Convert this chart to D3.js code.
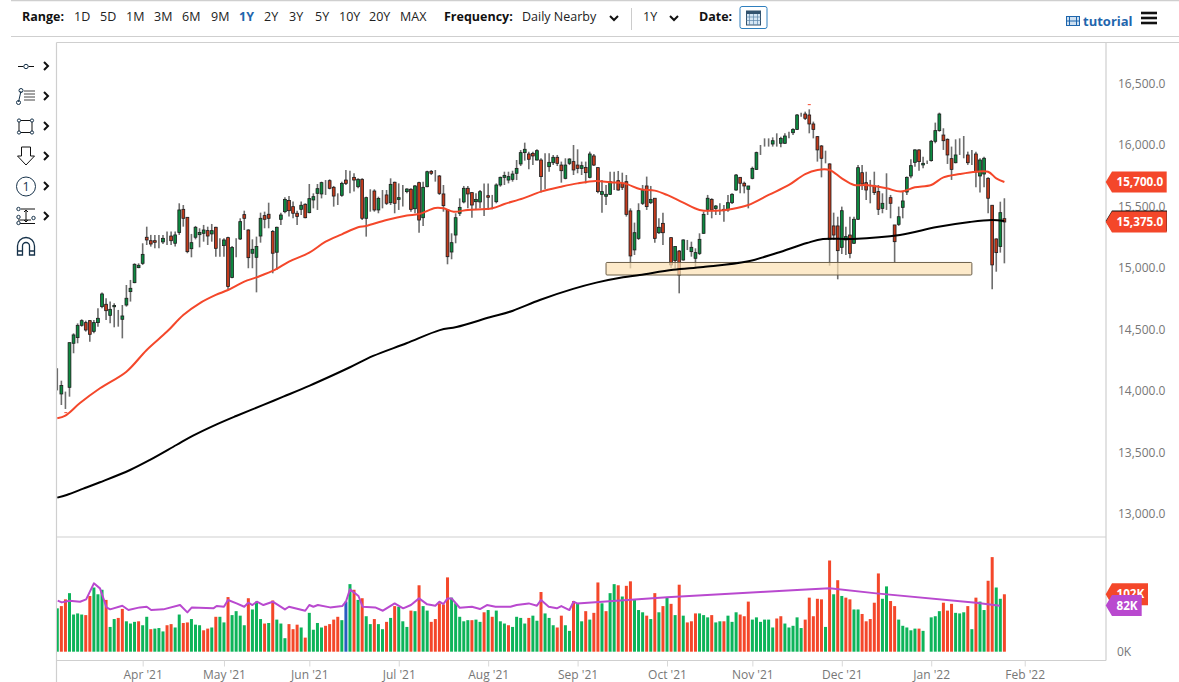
<!DOCTYPE html>
<html>
<head>
<meta charset="utf-8">
<title>Daily chart</title>
<script src="https://cdnjs.cloudflare.com/ajax/libs/d3/7.8.5/d3.min.js"></script>
<style>
  html, body { margin: 0; padding: 0; background: #fff; }
  svg { display: block; font-family: "Open Sans", sans-serif; }
  .axis text { fill: #777; font-family: "Open Sans", sans-serif; font-size: 12px; }
  .axis line { stroke: #d8d8d8; }
  .axis path { display: none; }
  .tb { font-size: 12.5px; fill: #222; }
  .tbb { font-size: 12.5px; font-weight: 700; fill: #111; }
</style>
</head>
<body>
<svg id="chart" width="1179" height="682"></svg>
<script>
const opens = [
  14060,13976,13911,14030,14388,14434,14534,14556,14572,14485,
  14556,14686,14705,14615,14685,14610,14583,14699,14808,14881,
  15003,15038,15250,15222,15222,15241,15212,15255,15260,15201,
  15288,15477,15412,15157,15250,15271,15282,15304,15277,15331,
  15174,15182,15247,14922,15168,15236,15434,15309,15120,15087,
  15260,15426,15437,15296,15128,15396,15458,15548,15499,15445,
  15477,15518,15450,15553,15607,15602,15688,15710,15656,15575,
  15591,15715,15726,15737,15661,15721,15404,15621,15626,15472,
  15594,15594,15531,15697,15558,15618,15621,15640,15482,15694,
  15409,15661,15786,15775,15748,15602,15472,15130,15268,15445,
  15537,15648,15613,15539,15537,15553,15588,15539,15539,15675,
  15737,15715,15721,15770,15846,15938,15927,15932,15878,15878,
  15789,15824,15856,15900,15837,15729,15851,15865,15837,15810,
  15818,15737,15911,15816,15599,15583,15599,15721,15710,15689,
  15702,15464,15147,15241,15526,15667,15531,15567,15287,15363,
  15737,15247,15060,15138,15065,15206,15133,15079,15119,15282,
  15477,15558,15483,15493,15477,15472,15531,15634,15737,15689,
  15640,15729,15802,15941,16022,16025,16008,16022,16014,16014,
  16100,16100,16127,16247,16252,16244,16171,16068,15992,15905,
  15846,15342,15342,15168,15228,15268,15201,15396,15775,15694,
  15667,15667,15621,15485,15648,15572,15350,15355,15493,15618,
  15748,15859,15960,15838,15856,15873,16030,16117,16081,16046,
  15889,15856,15992,15992,15919,15932,15927,15748,15764,15729,
  15510,15236,15174,15401
];
const highs = [
  14185,14084,13995,14393,14469,14550,14583,14572,14577,14577,
  14672,14800,14754,14727,14713,14659,14699,14862,14903,15038,
  15038,15201,15336,15269,15269,15269,15269,15296,15296,15296,
  15526,15512,15412,15277,15342,15323,15350,15336,15358,15336,
  15241,15241,15255,15179,15241,15404,15466,15315,15233,15255,
  15450,15458,15531,15309,15336,15450,15575,15586,15540,15466,
  15540,15526,15683,15607,15683,15702,15715,15721,15667,15607,
  15702,15797,15791,15770,15729,15729,15580,15640,15640,15580,
  15634,15634,15729,15702,15688,15675,15648,15648,15675,15702,
  15702,15791,15797,15797,15756,15675,15472,15282,15445,15566,
  15667,15667,15613,15607,15634,15688,15688,15594,15688,15743,
  15783,15783,15791,15878,15959,16019,15946,15946,15965,15892,
  15932,15932,15919,15919,15865,15892,15892,16000,15965,15865,
  15865,15946,15927,15818,15715,15675,15783,15783,15789,15775,
  15756,15485,15369,15526,15675,15743,15667,15567,15404,15450,
  15737,15247,15179,15146,15233,15228,15214,15160,15282,15458,
  15594,15567,15512,15526,15512,15594,15607,15764,15737,15702,
  15667,15824,15946,16000,16054,16054,16062,16095,16068,16095,
  16108,16136,16252,16263,16271,16290,16190,16073,16000,15954,
  15851,15450,15417,15499,15336,15417,15417,15838,15838,15783,
  15716,15783,15675,15607,15770,15594,15350,15499,15621,15743,
  15884,15965,15965,15905,15873,16041,16182,16263,16136,16054,
  15987,16046,16054,16073,15946,15960,15946,15892,15905,15737,
  15510,15241,15539,15567
];
const lows = [
  14005,13886,13854,13954,14307,14388,14523,14483,14401,14469,
  14523,14672,14577,14550,14518,14523,14428,14686,14727,14876,
  14998,15025,15187,15174,15160,15160,15195,15187,15187,15174,
  15269,15336,15120,15087,15233,15168,15214,15187,15214,15092,
  15092,15092,14827,14916,15087,15228,15309,14998,14998,14802,
  15206,15323,15323,14957,14984,15350,15445,15418,15404,15350,
  15431,15404,15445,15485,15472,15566,15594,15640,15499,15512,
  15580,15675,15607,15621,15648,15390,15255,15458,15458,15445,
  15485,15512,15512,15445,15472,15499,15607,15458,15445,15287,
  15342,15656,15756,15702,15594,15458,15030,15071,15201,15423,
  15526,15485,15409,15472,15485,15423,15472,15477,15526,15661,
  15675,15688,15702,15715,15829,15873,15802,15837,15873,15613,
  15640,15783,15837,15829,15694,15721,15837,15756,15770,15756,
  15688,15729,15829,15607,15450,15512,15594,15634,15629,15634,
  15418,14997,15106,15228,15512,15472,15520,15206,15277,15187,
  15737,14997,14997,14794,15060,15146,15092,14997,15106,15277,
  15431,15404,15431,15431,15377,15458,15520,15629,15607,15607,
  15485,15721,15797,15919,15987,15987,15987,15987,15981,16008,
  16054,16081,16122,16230,16203,16095,16054,15865,15737,15851,
  15019,15228,14908,15114,15106,15079,15195,15390,15634,15553,
  15526,15594,15431,15445,15472,15404,15046,15342,15404,15594,
  15729,15824,15791,15810,15846,15865,16014,16108,15960,15846,
  15716,15851,15919,15892,15838,15838,15656,15613,15656,15445,
  14827,14970,15125,15038
];
const closes = [
  14060,14044,13911,14393,14456,14534,14572,14496,14461,14556,
  14591,14789,14653,14664,14695,14610,14610,14754,14835,15030,
  15022,15111,15228,15195,15209,15241,15241,15255,15222,15269,
  15472,15404,15133,15206,15331,15288,15309,15260,15304,15160,
  15174,15228,14849,15166,15168,15377,15404,15084,15152,15174,
  15404,15396,15404,15120,15331,15431,15558,15466,15445,15418,
  15510,15409,15564,15580,15645,15694,15688,15648,15585,15575,
  15688,15688,15726,15715,15721,15404,15572,15621,15472,15566,
  15594,15526,15680,15526,15572,15618,15642,15477,15667,15390,
  15656,15783,15770,15775,15607,15507,15092,15206,15409,15493,
  15648,15602,15512,15558,15621,15553,15575,15539,15675,15737,
  15753,15743,15764,15810,15938,15965,15884,15911,15954,15743,
  15789,15859,15900,15851,15791,15837,15886,15797,15810,15832,
  15775,15927,15837,15621,15621,15599,15702,15721,15634,15656,
  15436,15098,15287,15466,15629,15499,15558,15241,15331,15287,
  15737,15025,15174,14943,15228,15206,15168,15125,15233,15436,
  15567,15472,15504,15493,15466,15531,15599,15756,15689,15667,
  15667,15810,15938,15941,16022,16025,16035,16022,16054,16073,
  16100,16127,16244,16247,16217,16171,16127,15960,15892,15905,
  15233,15268,15141,15466,15255,15119,15396,15816,15683,15634,
  15667,15613,15477,15526,15648,15526,15214,15417,15545,15737,
  15832,15960,15865,15851,15856,16030,16117,16252,16035,15919,
  15802,15919,15992,15992,15856,15932,15781,15878,15892,15567,
  15025,15125,15450,15374
];

const ma50Index = [0,2,5.5,10.5,17,22,27,31,35,39,42,46,49,53.5,57,62,66,70,74,76,81,86,89,93,95,97.5,101,107,110,114.6,119,124,128,132.5,136,139.5,143.5,147,150,154,158,162,166,170,175,180,184,187,190,193,196,199,204,207.5,211,215,218,222,226,229,231,233];
const ma50Values = [13778,13800,13900,14022,14157,14334,14483,14618,14713,14781,14821,14889,14924,14984,15052,15125,15214,15274,15331,15342,15390,15426,15439,15488,15485,15458,15472,15485,15520,15566,15621,15661,15688,15707,15697,15688,15640,15629,15594,15531,15472,15466,15480,15512,15594,15675,15764,15797,15797,15729,15675,15675,15648,15621,15656,15675,15737,15764,15783,15783,15729,15699];

const ma200Index = [0,2.3,6.4,10.5,17.9,22.8,29.3,33.4,39.2,44,50.7,55.6,62.1,67.9,72,77.7,85.9,94.1,98.2,106.4,112.1,118.7,126.9,132.6,139.2,143.3,151.5,158.9,169.7,177,184.4,188.4,195.7,207.3,216.4,224.5,229.9,233];
const ma200Values = [13133,13155,13206,13258,13358,13440,13561,13637,13729,13797,13887,13954,14044,14130,14193,14285,14388,14495,14520,14599,14653,14740,14830,14881,14925,14943,14985,15008,15052,15122,15203,15236,15236,15268,15333,15374,15390,15382];

const volumes = [
  77,81,93,104,66,68,66,65,99,114,
  102,110,92,44,58,60,76,54,50,53,
  54,47,62,40,41,42,36,47,49,43,
  66,51,52,58,48,47,38,41,43,62,
  62,52,97,65,72,64,47,95,75,89,
  58,50,51,91,57,50,24,49,40,48,
  43,25,69,39,51,43,46,49,57,62,
  56,89,120,110,92,95,63,49,58,49,
  40,53,60,81,80,54,44,73,72,118,
  81,73,53,58,86,84,132,96,86,62,
  54,56,56,57,53,70,74,62,73,54,
  50,47,44,62,60,50,60,64,55,106,
  68,60,47,43,64,47,37,90,86,54,
  72,57,69,123,86,72,104,120,118,98,
  117,125,92,74,70,64,58,104,70,81,
  96,85,65,119,64,52,54,68,68,65,
  61,65,52,54,54,64,53,70,66,63,
  89,57,61,53,57,57,43,59,63,50,
  43,46,61,42,57,96,63,94,93,44,
  162,102,127,99,96,93,75,75,67,54,
  58,87,139,94,116,90,81,57,46,43,
  38,41,41,37,0,61,63,72,87,73,
  85,69,68,70,81,40,96,89,74,126,
  168,114,94,102
];
// g = green, r = red, b = blue, ten bars per row
const volumeTones = [
  'grrggggrrg','ggrggrrggg','rggrgggrrg','grrgggrrgr','ggrggggrgg',
  'grgrgggrrr','grggggrrrr','gbgrgrggrg','grgrgggrgr','ggrrrrrggg',
  'ggrggrgrgg','grggggrggr','gggrrggrgg','rgrrgrggrg','rrgggrgrgr',
  'grgrgrrrgg','grggrgggrr','rggggggrrg','ggggrrrrrg','rgrgrrggrr',
  'rrrggrrggg','ggrgggggrr','rgggrgrggr','rggr'
].join('').split('');

const volMaIndex = [0.1,1.1,3,5.6,7.1,9,10.5,12.1,13,16,17.5,20.3,22,23.1,26.1,30.2,32,33.1,38.4,39.2,41,42,44.1,46,47,48,49.1,50.7,53,56,57,61,62,63,64.1,67.1,70.1,71,72,74.1,75.1,78.2,80.1,83,85.1,87,89,91,93,94,95,96,97,99,102,104,105.7,107.8,111.5,113,116,118,119,120.9,122.9,124,126,127,127.9,150,182,190,201.5,226,231.9];
const volMaValues = [90.6,87.6,90.6,88.8,92.9,121.4,112.5,78.7,75.2,81.7,74,78.7,79.9,74,75.2,82.9,69.9,78.7,77,81.1,79.9,91.8,85.8,79.9,87,82.9,88.8,82.9,88.8,75.2,79.9,72.8,82.9,79.9,82.9,78.7,81.1,88.8,110.7,98.9,79.9,78.7,72.8,85.8,77,82.9,94.7,84.1,81.7,88.8,84.7,94.7,94.7,78.1,79.9,75.8,82.9,79.9,79.9,82.9,85.8,81.7,91.8,79.9,77,81.1,74,88.8,85.8,96.5,109.5,112.5,103.6,87,81.7];

const priceTicks = [13000,13500,14000,14500,15000,15500,16000,16500];
const monthIndex = [21,41,62,84,106,128,150,171,193,215,238];
const monthLabels = ["Apr '21","May '21","Jun '21","Jul '21","Aug '21","Sep '21","Oct '21","Nov '21","Dec '21","Jan '22","Feb '22"];
const rangeLabels = ['1D','5D','1M','3M','6M','9M','1Y','2Y','3Y','5Y','10Y','20Y','MAX'];
const rangeX = [74,100,126,154,182,211,239,264,289,315,339,369,400];
const zoneIndex = [135, 225];
const zonePrice = [14943, 15045];
const strayIndex = [2.1, 185];
const strayPrice = [13824, 16328];

const RED = '#f4472a', GREEN = '#0cb45a', BLUE = '#2b5cc0', PURPLE = '#b949cf';
const svg = d3.select('#chart');

const x = d3.scaleLinear().domain([0, 258]).range([57.3, 1106]);
const y = d3.scaleLinear().domain([13000, 16500]).range([514, 83.5]);
const yVol = d3.scaleLinear().domain([0, 100]).range([651.7, 595.4]);

const defs = svg.append('defs');
defs.append('clipPath').attr('id', 'pane')
    .append('rect').attr('x', 57).attr('y', 43).attr('width', 1049).attr('height', 617);
defs.append('filter').attr('id', 'soft').append('feGaussianBlur').attr('stdDeviation', 0.3);

// frame
const frame = svg.append('g').attr('stroke', '#cfcfcf').attr('stroke-width', 1.2);
[[11, 0.6, 1179, 0.6], [11, 36.5, 1179, 36.5], [56.5, 42.5, 1179, 42.5], [56.5, 42.5, 56.5, 682],
 [1106, 42.5, 1106, 660.5], [56.5, 537, 1106, 537], [56.5, 660.5, 1106, 660.5]].forEach((l) => {
    frame.append('line').attr('x1', l[0]).attr('y1', l[1]).attr('x2', l[2]).attr('y2', l[3]);
});

// axes
svg.append('g').attr('class', 'axis').attr('transform', 'translate(1106,0)')
    .call(d3.axisRight(y).tickValues(priceTicks).tickSize(0).tickPadding(12).tickFormat(d3.format(',.1f')));

svg.append('g').attr('class', 'axis').attr('transform', 'translate(0,660.5)')
    .call(d3.axisBottom(x).tickValues(monthIndex).tickSize(6).tickPadding(4)
        .tickFormat((d, i) => monthLabels[i]));

svg.append('g').attr('class', 'axis').attr('transform', 'translate(1106,0)')
    .call(d3.axisRight(yVol).tickValues([0]).tickSize(0).tickPadding(11).tickFormat((d) => d + 'K'));

const plot = svg.append('g').attr('clip-path', 'url(#pane)').append('g').attr('filter', 'url(#soft)');

// candles
const candles = plot.append('g').selectAll('g').data(opens).enter().append('g');
candles.append('line')
    .attr('x1', (d, i) => x(i)).attr('x2', (d, i) => x(i))
    .attr('y1', (d, i) => y(highs[i])).attr('y2', (d, i) => y(lows[i]))
    .attr('stroke', 'rgba(60,60,60,0.75)').attr('stroke-width', 1.6);
candles.append('rect')
    .attr('x', (d, i) => x(i) - 1.4)
    .attr('width', 2.8)
    .attr('y', (d, i) => y(Math.max(opens[i], closes[i])))
    .attr('height', (d, i) => Math.abs(y(opens[i]) - y(closes[i])))
    .attr('fill', (d, i) => closes[i] < opens[i] ? '#c43a1f' : '#0b8a41')
    .attr('stroke', '#1d1d1d').attr('stroke-width', 0.8);

plot.append('g').selectAll('path').data(strayIndex).enter().append('path')
    .attr('d', (d, i) => `M${x(d) - 1.5},${y(strayPrice[i])}h3`)
    .attr('stroke', RED).attr('stroke-width', 1).attr('fill', 'none');

// support zone
plot.append('rect')
    .attr('x', x(zoneIndex[0])).attr('width', x(zoneIndex[1]) - x(zoneIndex[0]))
    .attr('y', y(zonePrice[1])).attr('height', y(zonePrice[0]) - y(zonePrice[1]))
    .attr('rx', 1)
    .attr('fill', 'rgba(252,226,182,0.72)')
    .attr('stroke', '#6b5f48').attr('stroke-width', 1);

// moving averages
const maLine = d3.line().curve(d3.curveCatmullRom.alpha(0.5))
    .x((d) => x(d[0])).y((d) => y(d[1]));
plot.append('path').attr('d', maLine(ma200Index.map((d, i) => [d, ma200Values[i]])))
    .attr('fill', 'none').attr('stroke', '#000').attr('stroke-width', 2);
plot.append('path').attr('d', maLine(ma50Index.map((d, i) => [d, ma50Values[i]])))
    .attr('fill', 'none').attr('stroke', RED).attr('stroke-width', 2);

// volume
plot.append('g').selectAll('rect').data(volumes).enter().append('rect')
    .attr('x', (d, i) => x(i) - 1.5)
    .attr('width', 3)
    .attr('y', (d) => yVol(d))
    .attr('height', (d) => yVol(0) - yVol(d))
    .attr('fill', (d, i) => volumeTones[i] === 'r' ? RED : volumeTones[i] === 'b' ? BLUE : GREEN);

const volLine = d3.line()
    .x((d) => x(d[0])).y((d) => yVol(d[1]));
plot.append('path').attr('d', volLine(volMaIndex.map((d, i) => [d, volMaValues[i]])))
    .attr('fill', 'none').attr('stroke', PURPLE).attr('stroke-width', 2).attr('stroke-linejoin', 'round');

// price tags
function tag(yPos, text, fill, right, h) {
    const g = svg.append('g');
    g.append('path')
        .attr('d', `M1105.7,${yPos} L1112,${yPos - h / 2} H${right} V${yPos + h / 2} H1112 Z`)
        .attr('fill', fill);
    g.append('text').attr('x', 1116.5).attr('y', yPos).attr('dy', '.35em')
        .attr('fill', '#fff').attr('font-size', 11.7).attr('font-weight', 700).text(text);
}
const lastMa200 = ma200Values[ma200Values.length - 1];
svg.append('path')
    .attr('d', `M1105.7,${y(lastMa200)} L1112,${y(lastMa200) - 10.5} H1167 V${y(lastMa200) + 10.5} H1112 Z`)
    .attr('fill', '#111');
tag(y(15700), d3.format(',.1f')(15700), RED, 1166.7, 21);
tag(y(15375), d3.format(',.1f')(15375), RED, 1166.7, 21);
tag(yVol(102), '102K', RED, 1148, 22);
tag(yVol(82), '82K', PURPLE, 1141.7, 21);

// toolbar
svg.append('text').attr('class', 'tbb').attr('x', 22).attr('y', 21).text('Range:');
svg.append('g').selectAll('text').data(rangeLabels).enter().append('text')
    .attr('class', 'tb')
    .attr('x', (d, i) => rangeX[i]).attr('y', 21)
    .attr('font-weight', (d) => d === '1Y' ? 700 : null)
    .style('fill', (d) => d === '1Y' ? '#1f66ad' : null)
    .text((d) => d);
svg.append('text').attr('class', 'tbb').attr('x', 444).attr('y', 21).text('Frequency:');
svg.append('text').attr('class', 'tb').attr('x', 522).attr('y', 21).text('Daily Nearby');
svg.append('text').attr('class', 'tb').attr('x', 643).attr('y', 21).text('1Y');
svg.append('text').attr('class', 'tbb').attr('x', 699).attr('y', 21).text('Date:');
svg.append('line').attr('x1', 631.5).attr('x2', 631.5).attr('y1', 8).attr('y2', 30).attr('stroke', '#ccc');

const chevDown = (cx, cy) => `M${cx - 4},${cy - 2}L${cx},${cy + 2}L${cx + 4},${cy - 2}`;
[614, 674].forEach((cx) => {
    svg.append('path').attr('d', chevDown(cx, 18)).attr('fill', 'none').attr('stroke', '#111').attr('stroke-width', 2);
});

// calendar button
const cal = svg.append('g');
cal.append('rect').attr('x', 740).attr('y', 6.5).attr('width', 27).attr('height', 22).attr('rx', 2)
    .attr('fill', '#fff').attr('stroke', '#2f7fbe');
cal.append('rect').attr('x', 746.5).attr('y', 11).attr('width', 14).attr('height', 14)
    .attr('fill', '#d6e6f4').attr('stroke', '#33536f');
[749.5, 753.5, 757.5].forEach((px) => {
    cal.append('line').attr('x1', px).attr('x2', px).attr('y1', 14).attr('y2', 25).attr('stroke', '#5e87aa').attr('stroke-width', 0.7);
});
[17, 20.5].forEach((py) => {
    cal.append('line').attr('x1', 746.5).attr('x2', 760.5).attr('y1', py).attr('y2', py).attr('stroke', '#5e87aa').attr('stroke-width', 0.7);
});
cal.append('rect').attr('x', 746.5).attr('y', 11).attr('width', 14).attr('height', 3).attr('fill', '#33536f');

// tutorial link and menu
const film = svg.append('g').attr('fill', 'none').attr('stroke', '#1f66ad');
film.append('rect').attr('x', 1066.5).attr('y', 16.5).attr('width', 13).attr('height', 9).attr('fill', '#cfe0f0');
film.append('path').attr('d', 'M1069.5,16.5v9M1076.5,16.5v9M1066.5,21h13');
svg.append('text').attr('x', 1083).attr('y', 26).attr('font-size', 13).attr('font-weight', 700)
    .attr('fill', '#1f66ad').text('tutorial');
[13, 18, 23].forEach((py) => {
    svg.append('line').attr('x1', 1141).attr('x2', 1157).attr('y1', py).attr('y2', py)
        .attr('stroke', '#111').attr('stroke-width', 2.6);
});

// drawing tools
const tools = svg.append('g').attr('fill', 'none').attr('stroke', '#16324a').attr('stroke-width', 1);
[66, 96, 126, 156, 186, 216].forEach((cy) => {
    svg.append('path').attr('d', `M44,${cy - 4}L48,${cy}L44,${cy + 4}`)
        .attr('fill', 'none').attr('stroke', '#111').attr('stroke-width', 2);
});
tools.append('path').attr('d', 'M18,66.5h5.5M28.5,66.5h5.5').attr('stroke', '#111');
tools.append('circle').attr('cx', 26).attr('cy', 66.5).attr('r', 2.2);
tools.append('path').attr('d', 'M18.5,102L21,91');
tools.append('circle').attr('cx', 18.5).attr('cy', 102.5).attr('r', 2);
tools.append('circle').attr('cx', 21).attr('cy', 90.5).attr('r', 2);
tools.append('path').attr('d', 'M24,91h11M24,94h11M24,97h11M24,100h11').attr('stroke', '#444');
tools.append('rect').attr('x', 19).attr('y', 120.5).attr('width', 13).attr('height', 12).attr('stroke', '#111');
[[19, 120.5], [32, 120.5], [19, 132.5], [32, 132.5]].forEach((p) => {
    tools.append('circle').attr('cx', p[0]).attr('cy', p[1]).attr('r', 1.6).attr('fill', '#fff');
});
tools.append('path').attr('d', 'M21.5,147H30.5V156H34.5L26,165L17.5,156H21.5Z').attr('stroke', '#111');
tools.append('circle').attr('cx', 26).attr('cy', 186.5).attr('r', 9.5);
svg.append('text').attr('x', 26).attr('y', 191).attr('text-anchor', 'middle').attr('font-size', 12.5).attr('fill', '#16324a').text('1');
tools.append('path').attr('d', 'M21,209H35M18,220H31M18,223.5H35M26,210V222M24,212l2,-2l2,2M24,220l2,2l2,-2').attr('stroke', '#111');
[[18.5, 209], [18.5, 217], [18.5, 223], [33.5, 218]].forEach((p) => {
    tools.append('circle').attr('cx', p[0]).attr('cy', p[1]).attr('r', 1.7).attr('fill', '#fff');
});
tools.append('path').attr('d', 'M17.5,255V246A8.5,8.5 0 0 1 34.5,246V255H29.5V246A3.5,3.5 0 0 0 22.5,246V255ZM17.5,251H22.5M29.5,251H34.5')
    .attr('stroke', '#16324a').attr('stroke-width', 1.3);
</script>
</body>
</html>
